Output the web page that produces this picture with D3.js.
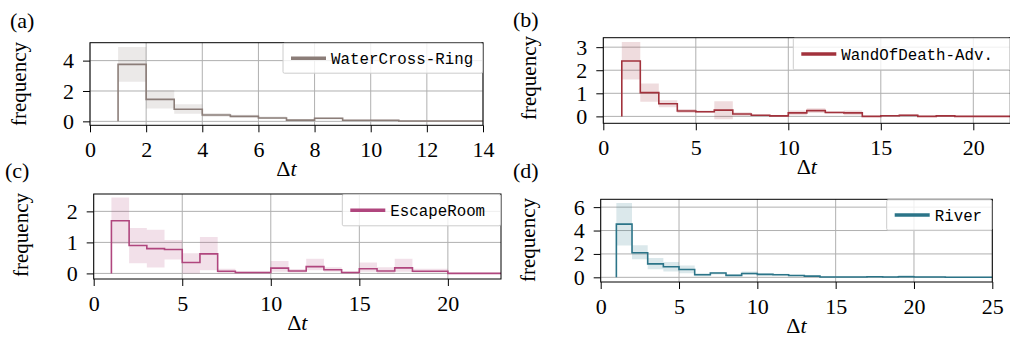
<!DOCTYPE html>
<html>
<head>
<meta charset="utf-8">
<script src="https://cdn.jsdelivr.net/npm/d3@7"></script>
<style>
html,body{margin:0;padding:0;background:#fff;}
svg{display:block;}
</style>
</head>
<body>
<svg id="chart" width="1010" height="337"></svg>
<script>
// ---------- data ----------
const seriesNames = ["WaterCross-Ring", "WandOfDeath-Adv.", "EscapeRoom", "River"];
const panelLabels = ["(a)", "(b)", "(c)", "(d)"];
const seriesColors = ["#8b7d78", "#a2323c", "#b0467e", "#2b7488"];

const aValues = [3.75,1.45,0.80,0.42,0.33,0.22,0.08,0.20,0.07,0.07,0.02,0.02,0.02];
const aLow    = [2.60,0.85,0.50,0.30,0.25,0.15,0.03,0.13,0.03,0.03,0.00,0.00,0.00];
const aHigh   = [4.90,2.05,1.12,0.55,0.43,0.32,0.13,0.26,0.11,0.11,0.05,0.05,0.05];

const bValues = [2.40,1.03,0.55,0.23,0.20,0.27,0.10,0.05,0.02,0.15,0.25,0.17,0.15,0.00,0.03,0.05,0.00,0.02,0.00,0.00,0.00];
const bLow    = [1.60,0.63,0.40,0.15,0.15,-0.12,0.02,0.02,0.00,0.05,0.15,0.12,0.05,0.00,0.00,0.00,0.00,0.00,0.00,0.00,0.00];
const bHigh   = [3.22,1.43,0.70,0.32,0.26,0.66,0.18,0.08,0.04,0.25,0.35,0.22,0.25,0.02,0.06,0.10,0.02,0.04,0.01,0.01,0.01];

const cValues = [1.70,0.90,0.80,0.77,0.35,0.63,0.07,0.03,0.03,0.17,0.08,0.22,0.12,0.03,0.15,0.08,0.18,0.07,0.07,0.00,0.00,0.00];
const cLow    = [0.95,0.33,0.19,0.45,0.00,0.10,0.00,0.00,0.00,0.05,0.03,0.10,0.05,0.00,0.05,0.00,0.05,0.03,0.03,0.00,0.00,0.00];
const cHigh   = [2.45,1.46,1.41,1.08,0.65,1.17,0.15,0.06,0.06,0.40,0.14,0.47,0.20,0.06,0.35,0.20,0.47,0.15,0.15,0.00,0.00,0.00];

const dValues = [4.55,2.10,1.15,0.90,0.67,0.22,0.37,0.17,0.33,0.25,0.22,0.15,0.10,0.03,0.03,0.03,0.05,0.03,0.05,0.03,0.03,0.00,0.00,0.00];
const dLow    = [2.73,1.55,0.70,0.50,0.35,0.10,0.25,0.10,0.20,0.15,0.15,0.10,0.05,0.00,0.00,0.00,0.00,0.00,0.00,0.00,0.00,0.00,0.00,0.00];
const dHigh   = [6.35,2.75,1.65,1.30,1.00,0.35,0.45,0.25,0.50,0.35,0.30,0.22,0.15,0.06,0.06,0.06,0.10,0.06,0.20,0.06,0.06,0.00,0.00,0.00];

const aXTicks = [0,2,4,6,8,10,12,14];
const bXTicks = [0,5,10,15,20];
const cXTicks = [0,5,10,15,20];
const dXTicks = [0,5,10,15,20,25];
const aYTicks = [0,2,4];
const bYTicks = [0,1,2,3];
const cYTicks = [0,1,2];
const dYTicks = [0,2,4,6];

const xDomains = [[0,14],[0,22],[0,23],[0,25]];
const yDomains = [[-0.26,5.18],[-0.30,3.41],[-0.18,2.56],[-0.40,6.67]];

// ---------- layout ----------
const boxes = [
  {l:90,   r:483,    t:42.7,  b:125.3, labX:10,  labY:28,  ylabX:20,  ylabY:84,  legL:283, legB:72.7},
  {l:603.3,r:1010.3, t:37.7,  b:123.3, labX:513, labY:27,  ylabX:530, ylabY:78,  legL:793.3, legB:69.3},
  {l:93.7, r:501,    t:194,   b:279,   labX:5,   labY:178, ylabX:22,  ylabY:235, legL:342.3, legB:225.3},
  {l:600.7,r:992.3,  t:199.3, b:282,   labX:513, labY:178, ylabX:529, ylabY:240, legL:886.7, legB:229.7}
];

const panels = [
  {vals:aValues, lo:aLow, hi:aHigh, xt:aXTicks, yt:aYTicks},
  {vals:bValues, lo:bLow, hi:bHigh, xt:bXTicks, yt:bYTicks},
  {vals:cValues, lo:cLow, hi:cHigh, xt:cXTicks, yt:cYTicks},
  {vals:dValues, lo:dLow, hi:dHigh, xt:dXTicks, yt:dYTicks}
];

const SERIF = '"Liberation Serif", "Times New Roman", serif';
const MONO = '"Liberation Mono", "DejaVu Sans Mono", monospace';
const svg = d3.select("#chart");

panels.forEach((p, i) => {
  const B = boxes[i];
  const color = seriesColors[i];
  const x = d3.scaleLinear().domain(xDomains[i]).range([B.l, B.r]);
  const y = d3.scaleLinear().domain(yDomains[i]).range([B.b, B.t]);
  const g = svg.append("g");

  const cid = "clip" + i;
  g.append("clipPath").attr("id", cid).append("rect")
    .attr("x", B.l).attr("y", B.t).attr("width", B.r - B.l).attr("height", B.b - B.t);

  // grid
  g.append("g").selectAll("line").data(p.xt).join("line")
    .attr("x1", d => x(d)).attr("x2", d => x(d)).attr("y1", B.t).attr("y2", B.b)
    .attr("stroke", "#b0b0b0").attr("stroke-width", 1);
  g.append("g").selectAll("line").data(p.yt).join("line")
    .attr("x1", B.l).attr("x2", B.r).attr("y1", d => y(d)).attr("y2", d => y(d))
    .attr("stroke", "#b0b0b0").attr("stroke-width", 1);

  const plot = g.append("g").attr("clip-path", `url(#${cid})`);
  const n = p.vals.length;
  const bandData = p.vals.map((v, k) => ({x: 1 + k, lo: p.lo[k], hi: p.hi[k]}));
  bandData.push({x: 1 + n, lo: p.lo[n-1], hi: p.hi[n-1]});
  const area = d3.area().curve(d3.curveStepAfter)
    .x(d => x(d.x)).y0(d => y(d.lo)).y1(d => y(d.hi));
  plot.append("path").datum(bandData).attr("d", area)
    .attr("fill", color).attr("fill-opacity", 0.17).attr("stroke", "none");

  const pts = [[1, 0]];
  p.vals.forEach((v, k) => { pts.push([1 + k, v]); pts.push([2 + k, v]); });
  const line = d3.line().x(d => x(d[0])).y(d => y(d[1]));
  plot.append("path").datum(pts).attr("d", line)
    .attr("fill", "none").attr("stroke", color).attr("stroke-width", 1.6)
    .attr("stroke-linejoin", "miter");

  // axes
  const xa = g.append("g").attr("transform", `translate(0,${B.b})`)
    .call(d3.axisBottom(x).tickValues(p.xt).tickSize(7).tickPadding(9).tickFormat(d3.format("d")));
  const ya = g.append("g").attr("transform", `translate(${B.l},0)`)
    .call(d3.axisLeft(y).tickValues(p.yt).tickSize(7).tickPadding(9).tickFormat(d3.format("d")));
  [xa, ya].forEach(a => {
    a.attr("font-family", SERIF).attr("font-size", 22);
    a.select(".domain").remove();
    a.selectAll(".tick line").attr("stroke", "#000").attr("stroke-width", 1);
    a.selectAll(".tick text")
      .attr("font-family", SERIF).attr("font-size", 22)
      .style("font-family", SERIF).style("font-size", "22px").attr("fill", "#000");
  });

  // spines
  g.append("rect").attr("x", B.l).attr("y", B.t).attr("width", B.r - B.l).attr("height", B.b - B.t)
    .attr("fill", "none").attr("stroke", "#000").attr("stroke-width", 1);

  // legend
  const legW = B.r - B.legL;
  const lg = g.append("g");
  lg.append("rect").attr("x", B.legL).attr("y", B.t + 0.5).attr("width", legW - 0.5).attr("height", B.legB - B.t)
    .attr("rx", 1.5).attr("fill", "#fff").attr("fill-opacity", 0.8).attr("stroke", "#cccccc").attr("stroke-width", 1);
  const ly = (B.t + B.legB) / 2 + 0.5;
  lg.append("line").attr("x1", B.legL + 8).attr("x2", B.legL + 43).attr("y1", ly).attr("y2", ly)
    .attr("stroke", color).attr("stroke-width", 3.5);
  lg.append("text").attr("x", B.legL + 48).attr("y", ly).attr("dy", "0.35em")
    .style("font-family", MONO).style("font-size", "15.8px").attr("fill", "#000").text(seriesNames[i]);

  // labels
  g.append("text").attr("x", B.labX).attr("y", B.labY)
    .style("font-family", SERIF).style("font-size", "22px").attr("fill", "#000").text(panelLabels[i]);
  g.append("text").attr("transform", `translate(${B.ylabX},${B.ylabY}) rotate(-90)`)
    .attr("text-anchor", "middle").attr("dy", "0.3em")
    .style("font-family", SERIF).style("font-size", "21px").attr("fill", "#000").text("frequency");
  const xl = g.append("text").attr("x", (B.l + B.r) / 2).attr("y", B.b + 51)
    .attr("text-anchor", "middle").style("font-family", SERIF).style("font-size", "22px").attr("fill", "#000");
  xl.append("tspan").text("Δ");
  xl.append("tspan").attr("font-style", "italic").text("t");
});
</script>
</body>
</html>
